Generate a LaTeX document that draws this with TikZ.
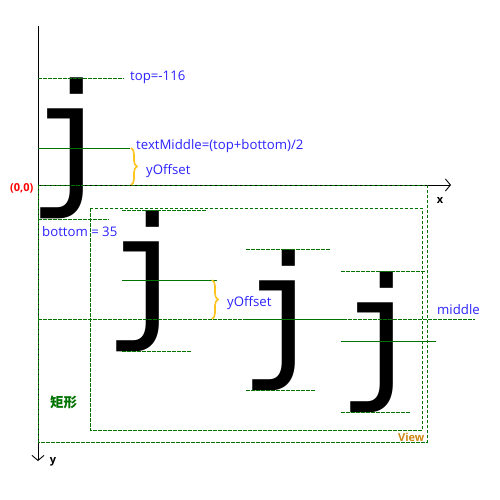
\documentclass[tikz,border=0pt]{standalone}
\usepackage{graphicx}
\usepackage{fontspec}
\setmainfont{Open Sans}
\newfontfamily\jfont{DejaVu Sans Mono}
\newfontfamily\cjkfont{Noto Sans CJK SC}
\usetikzlibrary{arrows.meta,decorations.pathreplacing}
\definecolor{lblue}{RGB}{45,35,255}
\definecolor{dgreen}{RGB}{0,115,0}
\definecolor{bracey}{RGB}{255,196,30}
\definecolor{viewc}{RGB}{205,135,20}
\newcommand\bigj{\hbox{\kern-13pt\resizebox*{!}{141pt}{\jfont j}\kern-31pt}}
\tikzset{
  gdash/.style={draw=dgreen, line width=0.8pt, dash pattern=on 3.5pt off 1.5pt},
  gsolid/.style={draw=dgreen, line width=0.8pt},
  lbl/.style={text=lblue, font=\fontsize{13.2}{15}\selectfont, inner sep=0, anchor=base west},
  axisline/.style={draw=black, line width=0.9pt, -{Straight Barb[length=5pt,width=12pt]}},
  jglyph/.style={inner sep=0, anchor=north west},
  ybrace/.style={draw=bracey, line width=1.6pt, decorate, decoration={brace, amplitude=6pt}},
  boldlbl/.style={inner sep=0, font=\fontsize{11}{13}\selectfont\bfseries}
}
\begin{document}
\begin{tikzpicture}[x=1pt,y=-1pt]
\useasboundingbox[fill=white] (0,0) rectangle (500,500);
% glyphs
\node[jglyph] (j1) at (40,78) {\bigj};
\node[jglyph] (j2) at (116,211) {\bigj};
\node[jglyph] (j3) at (252,250) {\bigj};
\node[jglyph] (j4) at (350,272) {\bigj};
% axes
\coordinate (o) at (38,185);
\coordinate (ytop) at (38,26);
\coordinate (yend) at (38,461);
\coordinate (xend) at (451,185);
\draw[axisline] (ytop) -- (yend);
\draw[axisline] (o) -- (xend);
% view rectangles
\draw[gdash] (38,185) rectangle (427,442);
\draw[gdash] (90,208) rectangle (422,430);
% middle line
\draw[gdash] (38,319) -- (475,319);
% j1 lines
\draw[gdash] (38,78) -- (124,78);
\draw[gsolid] (38,148) -- (130,148);
\draw[gdash] (38,219) -- (109,219);
% j2 lines
\draw[gdash] (122,210) -- (207,210);
\draw[gsolid] (122,280) -- (217,280);
\draw[gdash] (122,351) -- (192,351);
% j3 lines
\draw[gdash] (246,249) -- (331,249);
\draw[gsolid] (246,319) -- (343,319);
\draw[gdash] (246,390) -- (316,390);
% j4 lines
\draw[gdash] (341,271) -- (426,271);
\draw[gsolid] (341,341) -- (436,341);
\draw[gdash] (341,412) -- (411,412);
% braces
\draw[ybrace] (131,148) -- (131,185);
\draw[ybrace] (212,280) -- (212,319);
% labels
\node[lbl] (ltop) at (130,81) {top=-116};
\node[lbl] (lmid) at (136,149) {textMiddle=(top+bottom)/2};
\node[lbl] (lyo1) at (146,174) {yOffset};
\node[lbl] (lbot) at (42,236) {bottom = 35};
\node[lbl] (lyo2) at (227,306) {yOffset};
\node[lbl] (lmiddle) at (437,314) {middle};
\node[boldlbl, text=red, anchor=base west] (lorig) at (10,191) {(0,0)};
\node[boldlbl, anchor=base] (lx) at (440,203) {x};
\node[boldlbl, anchor=base] (ly) at (53,463) {y};
\node[boldlbl, text=viewc, anchor=base west] (lview) at (398,441) {View};
\node[inner sep=0, anchor=west, text=dgreen, font=\cjkfont\fontsize{13.5}{15}\selectfont\bfseries] (lrect) at (50,402) {矩形};
\end{tikzpicture}
\end{document}
